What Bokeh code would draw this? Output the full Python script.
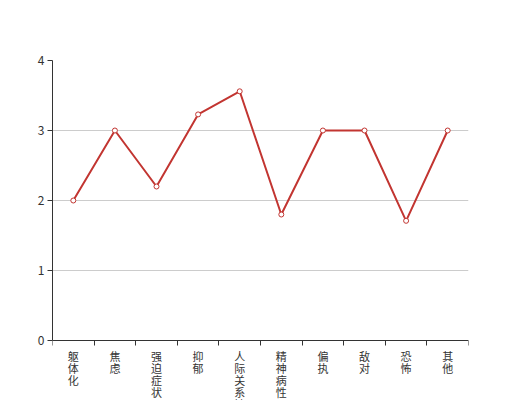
from bokeh.plotting import figure
from bokeh.models import ColumnDataSource, Range1d, FixedTicker, LinearAxis
from bokeh.embed import file_html
from bokeh.resources import INLINE

categories = ["躯体化", "焦虑", "强迫症状", "抑郁", "人际关系敏感", "精神病性", "偏执", "敌对", "恐怖", "其他"]
values = [2.0, 3.0, 2.2, 3.23, 3.56, 1.8, 3.0, 3.0, 1.71, 3.0]
y_ticks = [0, 1, 2, 3, 4]

FONT = "Noto Sans CJK SC"
LINE = "#c23531"
AX = "#333333"

n = len(categories)
xs = [i + 0.5 for i in range(n)]
src = ColumnDataSource(dict(x=xs, y=values))

# frame: 416 x 280 px for the 0..4 value span, extended 60 px below for the labels
px_per_unit = 280 / 4
p = figure(width=520, height=400, output_backend="svg", toolbar_location=None,
           x_range=Range1d(0, n), y_range=Range1d(-60 / px_per_unit, 4),
           x_axis_location=None,
           min_border_left=52, min_border_right=52, min_border_top=60, min_border_bottom=0)
p.outline_line_color = None
p.background_fill_color = "white"
p.border_fill_color = "white"

p.xgrid.visible = False
p.ygrid.grid_line_color = "#cccccc"
p.ygrid.ticker = FixedTicker(ticks=y_ticks)

p.line("x", "y", source=src, line_color=LINE, line_width=2)
p.scatter("x", "y", source=src, size=5, fill_color="white", line_color=LINE, line_width=1)

p.yaxis.ticker = FixedTicker(ticks=y_ticks)
p.yaxis.bounds = (0, 4)
p.yaxis.axis_line_color = AX
p.yaxis.major_tick_line_color = AX
p.yaxis.major_tick_out = 5
p.yaxis.major_tick_in = 0
p.yaxis.minor_tick_line_color = None
p.yaxis.major_label_standoff = 3
p.yaxis.major_label_text_font = FONT
p.yaxis.major_label_text_font_size = "12px"
p.yaxis.major_label_text_color = AX

xaxis = LinearAxis(fixed_location=0,
                   ticker=FixedTicker(ticks=xs, minor_ticks=list(range(n + 1))),
                   major_label_overrides={x: "\n".join(c) for x, c in zip(xs, categories)})
xaxis.axis_line_color = AX
xaxis.major_tick_line_color = None
xaxis.major_tick_out = 5
xaxis.major_tick_in = 0
xaxis.minor_tick_line_color = AX
xaxis.minor_tick_out = 5
xaxis.minor_tick_in = 0
xaxis.major_label_standoff = 2
xaxis.major_label_text_font = FONT
xaxis.major_label_text_font_size = "11px"
xaxis.major_label_text_color = AX
xaxis.major_label_text_line_height = 0.755
p.add_layout(xaxis, "below")

open("out.html", "w").write(file_html(p, INLINE))
